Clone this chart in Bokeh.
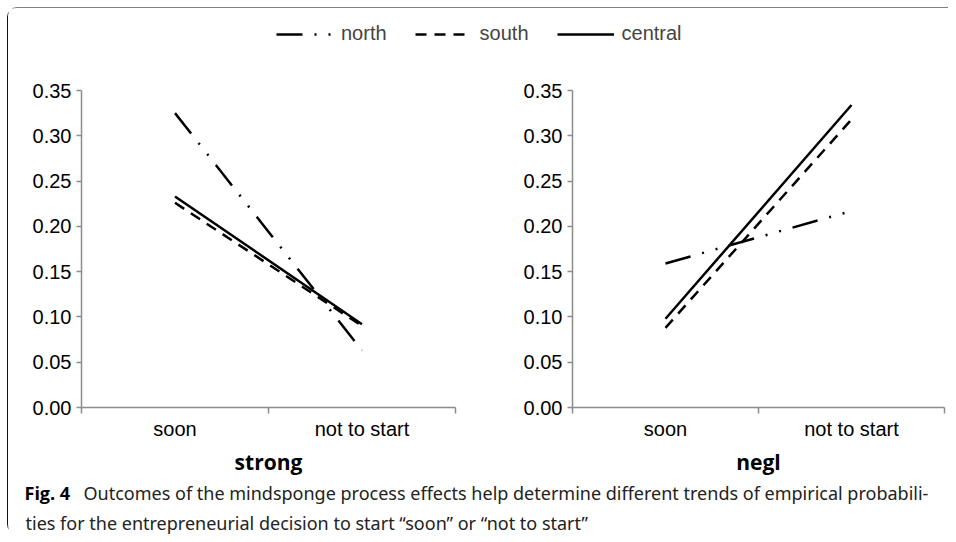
from bokeh.plotting import figure
from bokeh.layouts import column, row
from bokeh.models import FixedTicker, Range1d, Legend, LegendItem
from bokeh.core.properties import value
from bokeh.embed import file_html
from bokeh.resources import INLINE

categories = ["soon", "not to start"]
panel_titles = ["strong", "negl"]
series_names = ["north", "south", "central"]
strong_north = [0.325, 0.063]
strong_south = [0.226, 0.090]
strong_central = [0.233, 0.092]
negl_north = [0.159, 0.217]
negl_south = [0.088, 0.318]
negl_central = [0.098, 0.334]
y_ticks = [0.00, 0.05, 0.10, 0.15, 0.20, 0.25, 0.30, 0.35]
y_tick_labels = ["0.00", "0.05", "0.10", "0.15", "0.20", "0.25", "0.30", "0.35"]

caption_bold = "Fig. 4"
caption_line1 = "Outcomes of the mindsponge process effects help determine different trends of empirical probabili-"
caption_line2 = "ties for the entrepreneurial decision to start \u201csoon\u201d or \u201cnot to start\u201d"

dash_styles = {"north": "26 12 2 12 2 12", "south": "11 8", "central": "solid"}
AXIS_GRAY = "#8c8c8c"
TICK_FONT = "Liberation Sans"

xs = [i + 0.5 for i in range(len(categories))]
boundaries = list(range(len(categories) + 1))


def make_panel(title, data, bl, br):
    p = figure(width=470, height=423, output_backend="svg", toolbar_location=None,
               x_range=Range1d(0, len(categories)), y_range=Range1d(0, 0.35),
               min_border_left=bl, min_border_right=br, min_border_top=32, min_border_bottom=74)
    p.outline_line_color = None
    p.grid.grid_line_color = None
    for name, vals in zip(series_names, data):
        p.line(xs, vals, line_width=2.5, line_color="black", line_dash=dash_styles[name])
    xa = p.xaxis[0]
    xa.ticker = FixedTicker(ticks=xs, minor_ticks=boundaries)
    xa.major_label_overrides = {x: c for x, c in zip(xs, categories)}
    xa.major_tick_out = 0
    xa.major_tick_in = 0
    xa.minor_tick_out = 6
    xa.minor_tick_in = 0
    xa.axis_line_color = AXIS_GRAY
    xa.minor_tick_line_color = AXIS_GRAY
    xa.axis_line_width = 1.5
    xa.minor_tick_line_width = 1.5
    xa.major_label_text_font = TICK_FONT
    xa.major_label_text_font_size = "20px"
    xa.major_label_text_color = "black"
    xa.major_label_standoff = 4
    xa.axis_label = title
    xa.axis_label_text_font = "Open Sans"
    xa.axis_label_text_font_style = "bold"
    xa.axis_label_text_font_size = "21px"
    xa.axis_label_text_color = "black"
    xa.axis_label_standoff = 5
    ya = p.yaxis[0]
    ya.ticker = FixedTicker(ticks=y_ticks)
    ya.major_label_overrides = {t: l for t, l in zip(y_ticks, y_tick_labels)}
    ya.major_tick_out = 5
    ya.major_tick_in = 0
    ya.minor_tick_out = 0
    ya.minor_tick_in = 0
    ya.axis_line_color = AXIS_GRAY
    ya.major_tick_line_color = AXIS_GRAY
    ya.axis_line_width = 1.5
    ya.major_tick_line_width = 1.5
    ya.major_label_text_font = TICK_FONT
    ya.major_label_text_font_size = "20px"
    ya.major_label_text_color = "black"
    ya.major_label_standoff = 5
    return p


left = make_panel(panel_titles[0], [strong_north, strong_south, strong_central], 73, 23)
right = make_panel(panel_titles[1], [negl_north, negl_south, negl_central], 94, 4)

# legend strip: the series are plotted off-view so that only the legend shows
lg = figure(width=940, height=50, output_backend="svg", toolbar_location=None,
            x_range=Range1d(-3, -2), y_range=Range1d(-3, -2), x_axis_type=None, y_axis_type=None,
            min_border=0)
lg.outline_line_color = None
lg.grid.grid_line_color = None
items = []
for name, vals in zip(series_names, [strong_north, strong_south, strong_central]):
    r = lg.line(xs, vals, line_width=2.5, line_color="black", line_dash=dash_styles[name])
    items.append(LegendItem(label=name, renderers=[r]))
legend = Legend(items=items, orientation="horizontal", location=(268, 13),
                glyph_width=57, glyph_height=20, label_height=20, label_standoff=8, spacing=28,
                padding=0, margin=0, border_line_alpha=0, background_fill_alpha=0,
                label_text_font=TICK_FONT, label_text_font_size="20px")
lg.add_layout(legend)

# caption strip
cap = figure(width=940, height=53, output_backend="svg", toolbar_location=None,
             x_range=Range1d(0, 940), y_range=Range1d(53, 0), x_axis_type=None, y_axis_type=None,
             min_border=0)
cap.outline_line_color = None
cap.grid.grid_line_color = None
cap.text(x=[16], y=[11], text=[caption_bold], text_font=value("Open Sans"), text_font_style="bold",
         text_font_size="18px", text_baseline="middle", text_color="black")
cap.text(x=[75], y=[11], text=[caption_line1], text_font=value("Noto Sans"),
         text_font_size="18px", text_baseline="middle", text_color="#222222")
cap.text(x=[17], y=[41], text=[caption_line2], text_font=value("Noto Sans"),
         text_font_size="18px", text_baseline="middle", text_color="#222222")

layout = column(lg, row(left, right), cap,
                styles={"margin-left": "7px", "margin-top": "7px",
                        "border-left": "1.5px solid #111111", "border-top": "1.5px solid #808080",
                        "border-radius": "10px 0 0 10px"})

open("out.html", "w").write(file_html(layout, INLINE))
